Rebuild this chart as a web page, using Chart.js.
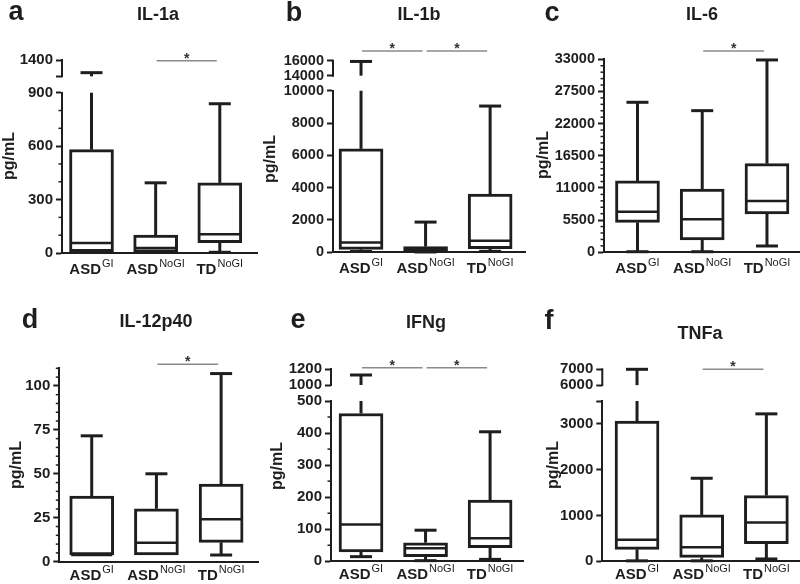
<!DOCTYPE html>
<html>
<head>
<meta charset="utf-8">
<script src="https://cdn.jsdelivr.net/npm/chart.js@4.4.0/dist/chart.umd.min.js"></script>
<style>
  html, body { margin: 0; padding: 0; background: #fff; }
  #fig { position: relative; width: 800px; height: 584px; overflow: hidden;
         font-family: "Liberation Sans", Arial, sans-serif; color: #1e1e1e; }
  .panel { position: absolute; }
  .panel canvas { display: block; }
  .lbl { position: absolute; font-weight: bold; white-space: nowrap; line-height: 1;
         transform: translate(-50%, -50%); }
  .letter { font-size: 27px; }
  .title { font-size: 18px; }
  .unit { font-size: 16px; transform: translate(-50%, -50%) rotate(-90deg); }
</style>
</head>
<body>
<div id="fig"></div>
<script>
const groups = ['ASD', 'ASD', 'TD'];
const groupSup = ['GI', 'NoGI', 'NoGI'];

// box summaries per group: [min, q1, median, q3, max]
const il1a = [[7, 7, 56, 580, 1245], [5, 5, 28, 101, 394], [4, 58, 105, 394, 838]];
const il1b = [[50, 185, 600, 6400, 15900], [20, 60, 200, 350, 1870], [60, 230, 720, 3600, 9050]];
const il6 = [[100, 5130, 6950, 12200, 25650], [100, 2110, 5640, 10830, 24220], [1080, 6550, 8780, 15160, 32890]];
const il12p40 = [[3.8, 3.8, 3.8, 37.3, 71.6], [3.8, 3.8, 10.8, 30.1, 50], [3.8, 11, 24.1, 44.1, 107]];
const ifng = [[14.5, 29, 115, 461, 1125], [2, 14.5, 40.5, 58, 97], [6, 42.6, 72, 191, 404]];
const tnfa = [[10, 262, 473, 3059, 7000], [10, 87, 306, 1012, 1813], [51, 386, 845, 1435, 3219]];

// y ticks (lower part) and the ticks above the axis break
const il1aTicks = [0, 300, 600, 900];
const il1aBreakTicks = [1200, 1400];
const il1aBreakLabels = ['', '1400'];
const il1bTicks = [0, 2000, 4000, 6000, 8000, 10000];
const il1bBreakTicks = [14000, 16000];
const il6Ticks = [0, 5500, 11000, 16500, 22000, 27500, 33000];
const il12Ticks = [0, 25, 50, 75, 100];
const ifngTicks = [0, 100, 200, 300, 400, 500];
const ifngBreakTicks = [1000, 1200];
const tnfaTicks = [0, 1000, 2000, 3000, 3500];
const tnfaTickLabels = ['0', '1000', '2000', '3000', ''];
const tnfaBreakTicks = [6000, 7000];

// significance brackets (group index pairs)
const il1aSig = [[1, 2]];
const il1bSig = [[0, 1], [1, 2]];
const il6Sig = [[1, 2]];
const il12Sig = [[1, 2]];
const ifngSig = [[0, 1], [1, 2]];
const tnfaSig = [[1, 2]];

const ink = '#1e1e1e';
const fontFam = '"Liberation Sans", Arial, sans-serif';

const panels = [
  { letter: 'a', name: 'IL-1a', stats: il1a, ticks: il1aTicks, lowerMax: 900, minorStep: 100,
    breakTicks: il1aBreakTicks, breakLabels: il1aBreakLabels, breakMin: 1000, sig: il1aSig, tickFont: 15,
    box: [0, 0, 262, 290], area: [62, 60, 257, 253], upperPx: 32.7, xRange: [-0.46, 2.58], sigOff: 0.7, labelDy: 21,
    letterPos: [16, 11], titlePos: [158, 14], unitPos: [9, 156] },
  { letter: 'b', name: 'IL-1b', stats: il1b, ticks: il1bTicks, lowerMax: 10000, minorStep: 0,
    breakTicks: il1bBreakTicks, breakMin: 12000, sig: il1bSig, tickFont: 14.5,
    box: [265, 0, 265, 290], area: [333, 60.7, 525, 252.3], upperPx: 30, xRange: [-0.434, 2.54], sigOff: -9.7, labelDy: 21,
    letterPos: [294, 12], titlePos: [419, 14], unitPos: [270, 159] },
  { letter: 'c', name: 'IL-6', stats: il6, ticks: il6Ticks, lowerMax: 33000, minorStep: 1100, sig: il6Sig, tickFont: 14.5,
    box: [530, 0, 270, 290], area: [604, 59.3, 800, 252.3], xRange: [-0.517, 2.51], sigOff: -8.3, labelDy: 21,
    letterPos: [552, 12], titlePos: [702, 14], unitPos: [543, 155] },
  { letter: 'd', name: 'IL-12p40', stats: il12p40, ticks: il12Ticks, lowerMax: 110, minorStep: 5, sig: il12Sig, tickFont: 15,
    box: [0, 290, 262, 294], area: [59.3, 368.3, 258, 561.7], xRange: [-0.501, 2.57], sigOff: -4, labelDy: 18,
    letterPos: [30, 319], titlePos: [156, 321], unitPos: [16, 465] },
  { letter: 'e', name: 'IFNg', stats: ifng, ticks: ifngTicks, lowerMax: 500, minorStep: 50,
    breakTicks: ifngBreakTicks, breakMin: 800, sig: ifngSig, tickFont: 15,
    box: [265, 290, 265, 294], area: [331, 369, 523, 561.3], upperPx: 32, xRange: [-0.465, 2.51], sigOff: -1.3, labelDy: 18,
    letterPos: [298, 319], titlePos: [426, 322], unitPos: [277, 466] },
  { letter: 'f', name: 'TNFa', stats: tnfa, ticks: tnfaTicks, tickLabels: tnfaTickLabels, lowerMax: 3500, minorStep: 0,
    breakTicks: tnfaBreakTicks, breakMin: 5000, sig: tnfaSig, tickFont: 15,
    box: [530, 290, 270, 294], area: [602.3, 369.3, 800, 561.3], upperPx: 31.7, xRange: [-0.537, 2.52], sigOff: 0, labelDy: 18,
    letterPos: [549, 320], titlePos: [700, 333], unitPos: [553, 465] }
];

function boxplotPlugin(p) {
  return {
    id: 'boxplot',
    afterDatasetsDraw(chart) {
      const ctx = chart.ctx;
      const xs = chart.scales.x, ys = chart.scales.y, yt = chart.scales.yTop;
      const broken = v => yt && v > p.lowerMax;
      const py = v => broken(v) ? yt.getPixelForValue(v) : ys.getPixelForValue(v);
      const seg = (x1, y1, x2, y2) => { ctx.beginPath(); ctx.moveTo(x1, y1); ctx.lineTo(x2, y2); ctx.stroke(); };
      ctx.save();
      ctx.strokeStyle = ink;

      // minor ticks
      if (p.minorStep) {
        ctx.lineWidth = 1.5;
        for (let v = 0; v <= p.lowerMax + 1e-9; v += p.minorStep) {
          if (p.ticks.some(t => Math.abs(t - v) < 1e-6)) continue;
          const y = ys.getPixelForValue(v);
          seg(ys.right - 3.5, y, ys.right, y);
        }
      }
      // short axis segment above the break
      if (yt) {
        ctx.lineWidth = 2;
        seg(yt.right, yt.getPixelForValue(p.breakTicks[0]) + 1, yt.right, yt.getPixelForValue(p.breakTicks[1]) - 1);
      }

      const cap = 11, half = 20.5;
      p.stats.forEach(([lo, q1, med, q3, hi], i) => {
        const cx = xs.getPixelForValue(i);
        ctx.lineWidth = 3;
        if (broken(hi)) {
          seg(cx, py(q3), cx, ys.getPixelForValue(p.lowerMax));
          seg(cx, yt.getPixelForValue(p.breakTicks[0]), cx, py(hi));
        } else {
          seg(cx, py(q3), cx, py(hi));
        }
        seg(cx - cap, py(hi), cx + cap, py(hi));
        if (lo < q1) {
          seg(cx, py(q1), cx, py(lo));
          seg(cx - cap, py(lo), cx + cap, py(lo));
        }
        ctx.lineWidth = 2.5;
        seg(cx - half, py(med), cx + half, py(med));
      });

      // significance lines
      const sy = chart.chartArea.top + p.sigOff;
      p.sig.forEach(([i, j]) => {
        const x1 = xs.getPixelForValue(i) + 1, x2 = xs.getPixelForValue(j) - 3;
        ctx.strokeStyle = '#8a8a8a';
        ctx.lineWidth = 1.4;
        seg(x1, sy, x2, sy);
        ctx.fillStyle = '#333';
        ctx.font = 'bold 14px ' + fontFam;
        ctx.textAlign = 'center';
        ctx.textBaseline = 'alphabetic';
        ctx.fillText('*', (x1 + x2) / 2, sy + 2);
      });

      // group labels with superscripts
      const base = chart.chartArea.bottom + p.labelDy;
      ctx.fillStyle = ink;
      ctx.textAlign = 'left';
      ctx.textBaseline = 'alphabetic';
      groups.forEach((g, i) => {
        const cx = xs.getPixelForValue(i);
        ctx.font = 'bold 15px ' + fontFam;
        const w1 = ctx.measureText(g).width;
        ctx.font = '11px ' + fontFam;
        const w2 = ctx.measureText(groupSup[i]).width;
        const x0 = cx - (w1 + w2 + 1) / 2;
        ctx.font = 'bold 15px ' + fontFam;
        ctx.fillText(g, x0, base);
        ctx.font = '11px ' + fontFam;
        ctx.fillText(groupSup[i], x0 + w1 + 1, base - 7);
      });
      ctx.restore();
    }
  };
}

function yAxis(p, ticks, labels, extra) {
  return Object.assign({
    type: 'linear',
    position: 'left',
    stack: 'v',
    grid: { display: true, drawOnChartArea: false, drawTicks: true, tickLength: 6, tickWidth: 2, tickColor: ink },
    ticks: {
      autoSkip: false, padding: 3, color: ink,
      font: { family: fontFam, size: p.tickFont, weight: 'bold' },
      callback: (v, i) => labels ? labels[i] : String(v)
    },
    afterBuildTicks: s => { s.ticks = ticks.map(v => ({ value: v })); },
    afterFit: s => { s.width = p.area[0] - p.box[0]; }
  }, extra);
}

const fig = document.getElementById('fig');

panels.forEach(p => {
  const [bx, by, bw, bh] = p.box;
  const [al, at, ar, ab] = p.area;
  const wrap = document.createElement('div');
  wrap.className = 'panel';
  wrap.style.left = bx + 'px';
  wrap.style.top = by + 'px';
  const canvas = document.createElement('canvas');
  canvas.width = bw;
  canvas.height = bh;
  wrap.appendChild(canvas);
  fig.appendChild(wrap);

  const lowerPx = (ab - at) - (p.breakTicks ? p.upperPx : 0);
  const scales = {
    x: {
      type: 'linear', min: p.xRange[0], max: p.xRange[1], offset: false,
      ticks: { display: false },
      grid: { display: false },
      border: { display: true, width: 2, color: ink },
      afterFit: s => { s.height = bh - (ab - by); }
    },
    y: yAxis(p, p.ticks, p.tickLabels, {
      min: 0, max: p.lowerMax, stackWeight: lowerPx,
      border: { display: true, width: 2, color: ink }
    })
  };
  if (p.breakTicks) {
    scales.yTop = yAxis(p, p.breakTicks, p.breakLabels, {
      min: p.breakMin, max: p.breakTicks[1], stackWeight: p.upperPx,
      border: { display: false }
    });
  }

  new Chart(canvas.getContext('2d'), {
    type: 'bar',
    data: {
      datasets: [{
        data: p.stats.map((s, i) => ({ x: i, y: [s[1], s[3]] })),
        yAxisID: 'y',
        backgroundColor: '#ffffff',
        borderColor: ink,
        borderWidth: 3,
        borderSkipped: false,
        barThickness: 44
      }]
    },
    options: {
      responsive: false,
      animation: false,
      devicePixelRatio: 1,
      layout: { padding: { left: 0, top: at - by, right: bx + bw - ar, bottom: 0 } },
      plugins: { legend: { display: false }, tooltip: { enabled: false }, title: { display: false } },
      scales
    },
    plugins: [boxplotPlugin(p)]
  });

  const addText = (cls, text, pos) => {
    const d = document.createElement('div');
    d.className = 'lbl ' + cls;
    d.textContent = text;
    d.style.left = pos[0] + 'px';
    d.style.top = pos[1] + 'px';
    fig.appendChild(d);
  };
  addText('letter', p.letter, p.letterPos);
  addText('title', p.name, p.titlePos);
  addText('unit', 'pg/mL', p.unitPos);
});
</script>
</body>
</html>
